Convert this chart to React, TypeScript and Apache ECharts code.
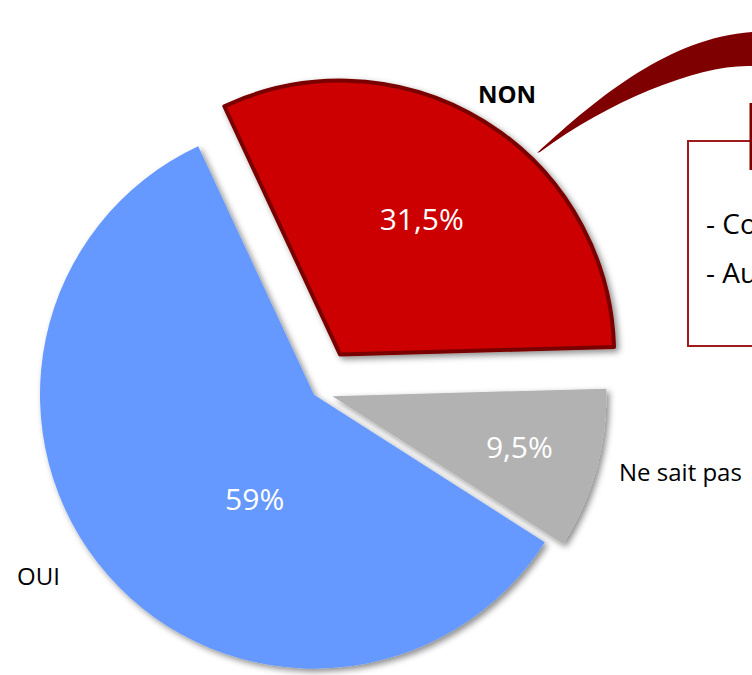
import React, { useEffect, useRef } from 'react';
import * as echarts from 'echarts';

const categories = ['NON', 'Ne sait pas', 'OUI'];
const values = [31.5, 9.5, 59];
const colors = ['#CC0000', '#B2B2B2', '#6699FF'];
const explode = [44, 16, 4];
const calloutLines = ['- Co', '- Au'];

// label nudges (px) relative to ECharts' default positions
const insideNudge = [[8, -17], [52, 13], [46, 12]];
const outsideNudge = [[12, -65], [33, 6], [-46, 3]];

const BASE = [317, 392];
const R = 274;
const START = 115;
const FONT = '"Open Sans", "DejaVu Sans", sans-serif';

export default function App() {
  const ref = useRef<HTMLDivElement>(null);
  useEffect(() => {
    if (!ref.current) return;
    echarts.graphic.registerShape(
      'arrowCurve',
      echarts.graphic.extendPath(
        'M537,153 C600,95 670,38 752,32 L760,32 L760,66 L752,66 C700,64 610,100 540,152 Z',
        {}
      )
    );
    const chart = echarts.init(ref.current, null, { renderer: 'svg' });
    const total = values.reduce((a, b) => a + b, 0);
    let acc = 0;
    const mids = values.map((v) => {
      const m = acc + v / 2;
      acc += v;
      return (m / total) * 360;
    });
    const fmt = (v: number) => String(v).replace('.', ',') + '%';

    const sliceSeries = values.map((_, i) => {
      const a = ((START - mids[i]) * Math.PI) / 180;
      const cx = BASE[0] + explode[i] * Math.cos(a);
      const cy = BASE[1] - explode[i] * Math.sin(a);
      return {
        type: 'pie',
        center: [cx, cy],
        radius: [0, R],
        startAngle: START,
        clockwise: true,
        silent: true,
        avoidLabelOverlap: false,
        emphasis: { disabled: true },
        labelLine: { show: false },
        label: { show: false },
        data: categories.map((name, j) => ({
          name,
          value: values[j],
          itemStyle:
            j === i
              ? {
                  color: colors[j],
                  borderColor: j === 0 ? '#7A0000' : 'rgba(0,0,0,0)',
                  borderWidth: j === 0 ? 4 : 0,
                  shadowColor: 'rgba(0,0,0,0.45)',
                  shadowBlur: 6,
                  shadowOffsetX: 3,
                  shadowOffsetY: 3,
                }
              : { color: 'rgba(0,0,0,0)', borderWidth: 0 },
          label:
            j === i
              ? {
                  show: true,
                  position: 'inside',
                  formatter: (p: any) => fmt(p.value),
                  color: '#ffffff',
                  fontSize: 30,
                  fontFamily: FONT,
                }
              : { show: false },
        })),
        labelLayout: (p: any) => ({ dx: insideNudge[p.dataIndex][0], dy: insideNudge[p.dataIndex][1] }),
      };
    });

    const nameSeries = {
      type: 'pie',
      center: BASE,
      radius: [0, R],
      startAngle: START,
      clockwise: true,
      silent: true,
      avoidLabelOverlap: false,
      emphasis: { disabled: true },
      itemStyle: { color: 'rgba(0,0,0,0)' },
      labelLine: { show: false, length: 0, length2: 0 },
      label: {
        show: true,
        position: 'outside',
        formatter: '{b}',
        color: '#000000',
        fontSize: 24,
        fontFamily: FONT,
      },
      data: categories.map((name, j) => ({
        name,
        value: values[j],
        label: j === 0 ? { fontWeight: 'bold' } : {},
      })),
      labelLayout: (p: any) => ({ dx: outsideNudge[p.dataIndex][0], dy: outsideNudge[p.dataIndex][1] }),
    };

    chart.setOption({
      animation: false,
      backgroundColor: '#ffffff',
      series: [...sliceSeries, nameSeries],
      graphic: [
        { type: 'arrowCurve', x: 0, y: 0, z: 10, style: { fill: '#7F0000' } },
        {
          type: 'rect',
          shape: { x: 688, y: 141, width: 200, height: 205 },
          style: { fill: 'none', stroke: '#9E1B1B', lineWidth: 2 },
        },
        {
          type: 'line',
          shape: { x1: 751, y1: 103, x2: 751, y2: 170 },
          style: { stroke: '#800000', lineWidth: 3 },
        },
        ...calloutLines.map((t, k) => ({
          type: 'text',
          x: 706,
          y: 223 + k * 49,
          style: {
            text: t,
            fontSize: 28,
            fontFamily: FONT,
            fill: '#000000',
            verticalAlign: 'middle',
            align: 'left',
          },
        })),
      ],
    });
    return () => chart.dispose();
  }, []);
  return (
    <div
      ref={ref}
      style={{ position: 'fixed', left: 0, top: 0, width: 752, height: 675 }}
    />
  );
}
